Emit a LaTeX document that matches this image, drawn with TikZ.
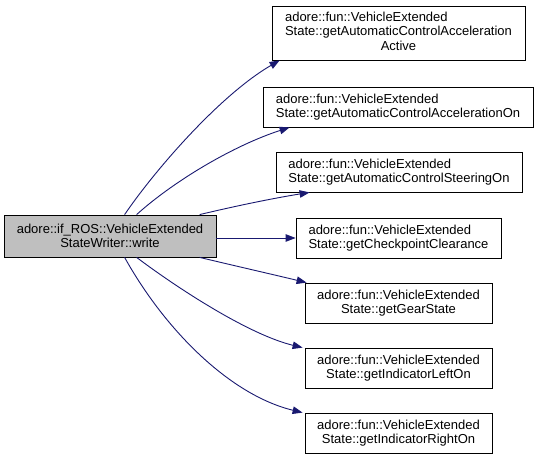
\documentclass[tikz,border=0pt]{standalone}
\usepackage{fontspec}
\setmainfont{Liberation Sans}
\usetikzlibrary{arrows.meta}
\definecolor{edgeblue}{RGB}{25,25,112}
\definecolor{srcgray}{RGB}{191,191,191}
\newcommand{\boxfont}{\fontsize{13bp}{14.3bp}\selectfont}
\tikzset{
  fbox/.style={draw=black, fill=white, line width=0.8bp, inner sep=0pt, font=\boxfont},
  srcbox/.style={fbox, fill=srcgray, align=center},
  lbox/.style={fbox, align=left},
  cbox/.style={fbox, align=center},
  edge/.style={draw=edgeblue, line width=0.9bp, -{Triangle[length=10bp,width=7.5bp]}}
}
\begin{document}
\begin{tikzpicture}[x=1bp,y=-1bp]
\useasboundingbox (0,0) rectangle (539,459);
\node[srcbox, minimum width=212bp, minimum height=42bp] (src) at (110,236) {adore::if\_ROS::VehicleExtended\\StateWriter::write};
\node[fbox, minimum width=253bp, minimum height=54bp] (t1) at (398.5,33) {\begin{tabular}{@{}l@{}}adore::fun::VehicleExtended\\State::getAutomaticControlAcceleration\\\multicolumn{1}{@{}c@{}}{Active}\end{tabular}};
\node[lbox, minimum width=270bp, minimum height=40bp] (t2) at (398,107) {adore::fun::VehicleExtended\\State::getAutomaticControlAccelerationOn};
\node[lbox, minimum width=246bp, minimum height=40bp] (t3) at (399,172) {adore::fun::VehicleExtended\\State::getAutomaticControlSteeringOn};
\node[lbox, minimum width=205bp, minimum height=40bp] (t4) at (398.5,238) {adore::fun::VehicleExtended\\State::getCheckpointClearance};
\node[cbox, minimum width=187bp, minimum height=40bp] (t5) at (398.5,303) {adore::fun::VehicleExtended\\State::getGearState};
\node[cbox, minimum width=187bp, minimum height=40bp] (t6) at (398.5,368) {adore::fun::VehicleExtended\\State::getIndicatorLeftOn};
\node[cbox, minimum width=187bp, minimum height=40bp] (t7) at (398.5,433) {adore::fun::VehicleExtended\\State::getIndicatorRightOn};

\coordinate (s1) at ([xshift=121bp]src.north west);
\coordinate (s2) at ([xshift=133bp]src.north west);
\coordinate (s3) at ([xshift=196bp]src.north west);
\coordinate (b1) at ([xshift=121bp]src.south west);
\coordinate (b2) at ([xshift=133bp]src.south west);
\coordinate (b3) at ([xshift=196bp]src.south west);

\draw[edge] (s1) .. controls (155,170) and (220,95) .. ([xshift=8bp]t1.south west);
\draw[edge] (s2) .. controls (175,180) and (235,145) .. ([xshift=27bp]t2.south west);
\draw[edge] (s3) .. controls (240,205) and (275,198) .. ([xshift=34bp]t3.south west);
\draw[edge] (src.east |- t4.west) -- (t4.west);
\draw[edge] (b3) .. controls (240,267) and (275,275) .. ([xshift=2bp]t5.north west);
\draw[edge] (b2) .. controls (180,290) and (250,335) .. ([xshift=-2bp]t6.north west);
\draw[edge] (b1) .. controls (165,330) and (230,395) .. ([xshift=-2bp]t7.north west);
\end{tikzpicture}
\end{document}
